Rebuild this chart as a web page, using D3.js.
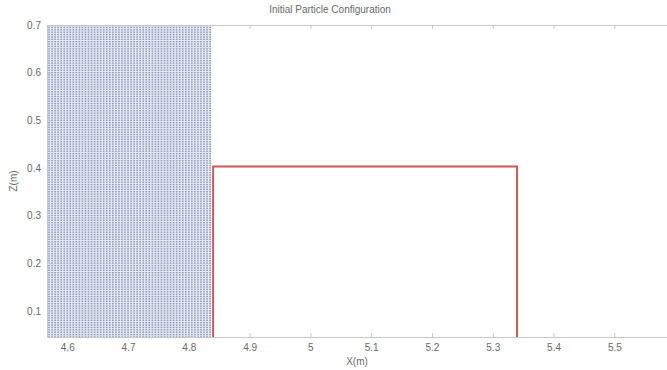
<!DOCTYPE html>
<html>
<head>
<meta charset="utf-8">
<script src="https://cdn.jsdelivr.net/npm/d3@7"></script>
<style>
  body { margin: 0; background: #fff; }
  svg { display: block; font-family: "Liberation Sans", Arial, sans-serif; }
</style>
</head>
<body>
<div class="chartDiv"></div>
<script>
(function(){
  // data
  var title      = "Initial Particle Configuration";
  var xLabel     = "X(m)";
  var yLabel     = "Z(m)";
  var xDomain    = [4.5667, 5.608];
  var yDomain    = [0.045, 0.7];
  var xTicks     = [4.6, 4.7, 4.8, 4.9, 5, 5.1, 5.2, 5.3, 5.4, 5.5];
  var yTicks     = [0.1, 0.2, 0.3, 0.4, 0.5, 0.6, 0.7];
  // particle block (fluid column), regular lattice
  var particleX  = [4.50, 4.835];
  var particleZ  = [0.0, 0.7];
  var spacing    = 0.005;
  // obstacle box outline
  var boxX       = [4.84, 5.34];
  var boxZ       = [0.0, 0.403];

  var width  = 667, height = 370;
  var margin = {top: 25, right: -13, bottom: 33, left: 47};
  var w = width - margin.left - margin.right,
      h = height - margin.top - margin.bottom;

  var svg = d3.select(".chartDiv").append("svg")
              .attr("width", width).attr("height", height);
  var g = svg.append("g")
             .attr("transform", "translate(" + margin.left + "," + margin.top + ")");

  var x = d3.scaleLinear().domain(xDomain).range([0, w]);
  var y = d3.scaleLinear().domain(yDomain).range([h, 0]);

  g.append("clipPath").attr("id", "clip")
   .append("rect").attr("width", w).attr("height", h);

  var plot = g.append("g").attr("clip-path", "url(#clip)");

  // particles
  var cols = d3.range(particleX[0], particleX[1] + 1e-9, spacing);
  var rows = d3.range(particleZ[0], particleZ[1] + 1e-9, spacing);
  var pts = [];
  cols.forEach(function(cx){ rows.forEach(function(cz){ pts.push([cx, cz]); }); });
  plot.append("rect").attr("x", x(particleX[0])).attr("y", y(particleZ[1]))
      .attr("width", x(particleX[1]) - x(particleX[0]) + 1)
      .attr("height", y(particleZ[0]) - y(particleZ[1]))
      .attr("fill", "#e6e9f2");
  plot.append("g").selectAll("rect").data(pts).enter().append("rect")
      .attr("x", function(d){ return x(d[0]) - 0.8; })
      .attr("y", function(d){ return y(d[1]) - 0.7; })
      .attr("width", 1.6).attr("height", 1.4)
      .attr("fill", "#6d7dae").attr("opacity", 0.75);

  // box
  plot.append("path")
      .attr("d", d3.line()([[x(boxX[0]), y(boxZ[0])], [x(boxX[0]), y(boxZ[1])],
                           [x(boxX[1]), y(boxZ[1])], [x(boxX[1]), y(boxZ[0])]]))
      .attr("fill", "none").attr("stroke", "#c9585a").attr("stroke-width", 2);

  // axes (MATLAB-like, inward ticks)
  var axColor = "#c8c8c8", txtColor = "#6a6a6a";
  var xb = g.append("g").attr("transform", "translate(0," + h + ")")
            .call(d3.axisBottom(x).tickValues(xTicks).tickSize(-4).tickPadding(7)
                    .tickFormat(d3.format("")));
  var xt = g.append("g")
            .call(d3.axisTop(x).tickValues(xTicks).tickSize(-4).tickFormat(""));
  var yl = g.append("g")
            .call(d3.axisLeft(y).tickValues(yTicks).tickSize(-4).tickPadding(6)
                    .tickFormat(d3.format("")));
  [xb, xt, yl].forEach(function(a){
    a.selectAll("path.domain").attr("stroke", axColor);
    a.selectAll(".tick line").attr("stroke", axColor);
    a.selectAll("text").attr("fill", txtColor).attr("font-size", 10)
     .attr("font-family", "Liberation Sans, Arial, sans-serif");
  });

  svg.append("text").attr("x", 330).attr("y", 13).attr("text-anchor", "middle")
     .attr("font-size", 10).attr("fill", txtColor).text(title);
  svg.append("text").attr("x", 357).attr("y", 365).attr("text-anchor", "middle")
     .attr("font-size", 10).attr("fill", txtColor).text(xLabel);
  svg.append("text").attr("transform", "translate(17,181) rotate(-90)")
     .attr("text-anchor", "middle").attr("font-size", 10).attr("fill", txtColor).text(yLabel);
})()
</script>
</body>
</html>
